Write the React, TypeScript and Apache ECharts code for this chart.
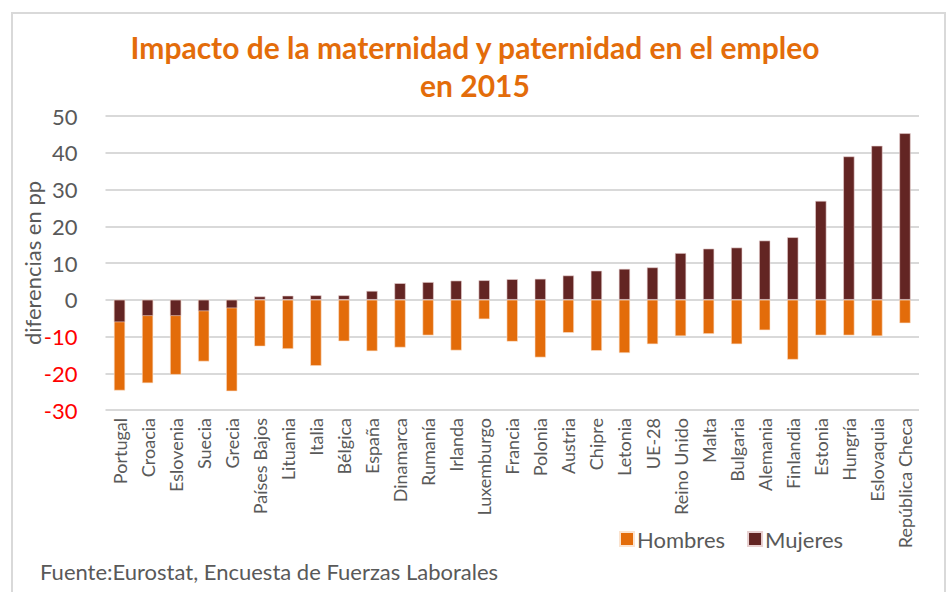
import React, { useEffect, useRef } from "react";
import * as echarts from "echarts";

const categories = [
  "Portugal", "Croacia", "Eslovenia", "Suecia", "Grecia", "Países Bajos", "Lituania", "Italia",
  "Bélgica", "España", "Dinamarca", "Rumanía", "Irlanda", "Luxemburgo", "Francia", "Polonia",
  "Austria", "Chipre", "Letonia", "UE-28", "Reino Unido", "Malta", "Bulgaria", "Alemania",
  "Finlandia", "Estonia", "Hungría", "Eslovaquia", "República Checa",
];
const hombres = [
  -24.7, -22.7, -20.4, -16.8, -24.9, -12.7, -13.4, -18.0,
  -11.3, -14.0, -13.0, -9.7, -13.8, -5.3, -11.4, -15.7,
  -9.0, -13.9, -14.5, -12.1, -9.9, -9.3, -12.1, -8.3,
  -16.3, -9.7, -9.7, -9.9, -6.4,
];
const mujeres = [
  -6.1, -4.4, -4.4, -3.1, -2.3, 0.9, 1.1, 1.2,
  1.2, 2.4, 4.5, 4.8, 5.2, 5.3, 5.6, 5.7,
  6.6, 7.9, 8.4, 8.8, 12.7, 13.9, 14.2, 16.1,
  17.0, 26.9, 39.0, 41.9, 45.3,
];
const yTicks = { min: -30, max: 50, interval: 10 };

const FONT = "Lato, 'Open Sans', sans-serif";
const GREY = "#595959";

export default function App() {
  const ref = useRef<HTMLDivElement>(null);
  useEffect(() => {
    if (!ref.current) return;
    const chart = echarts.init(ref.current, undefined, { renderer: "svg" });
    chart.setOption({
      animation: false,
      backgroundColor: "#ffffff",
      textStyle: { fontFamily: FONT },
      title: {
        text: "Impacto de la maternidad y paternidad en el empleo\nen 2015",
        left: "center",
        top: 23,
        textStyle: {
          color: "#E36C0A",
          fontFamily: FONT,
          fontWeight: "bold",
          fontSize: 30,
          lineHeight: 38,
        },
      },
      legend: {
        data: ["Hombres", "Mujeres"],
        left: 614,
        top: 523,
        itemWidth: 14,
        itemHeight: 14,
        itemGap: 22,
        icon: "rect",
        textStyle: { color: GREY, fontSize: 22, fontFamily: FONT, padding: [0, 0, 0, -2] },
      },
      graphic: [
        {
          type: "rect",
          shape: { x: 12, y: 13, width: 933, height: 640 },
          style: { fill: "none", stroke: "#D9D9D9", lineWidth: 2 },
          silent: true,
        },
        {
          type: "text",
          x: 32,
          y: 263,
          rotation: Math.PI / 2,
          style: {
            text: "diferencias en pp",
            fill: GREY,
            fontSize: 22,
            fontFamily: FONT,
            align: "center",
            verticalAlign: "middle",
          },
        },
        {
          type: "text",
          left: 40,
          top: 560,
          style: {
            text: "Fuente:Eurostat, Encuesta de Fuerzas Laborales",
            fill: GREY,
            fontSize: 22,
            fontFamily: FONT,
          },
        },
      ],
      grid: { left: 105.5, right: 31, top: 116, bottom: 182, containLabel: false },
      xAxis: {
        type: "category",
        data: categories,
        axisLine: { show: false },
        axisTick: { show: false },
        axisLabel: {
          rotate: 90,
          interval: 0,
          color: GREY,
          fontSize: 18,
          fontFamily: FONT,
          margin: 8,
        },
      },
      yAxis: {
        type: "value",
        min: yTicks.min,
        max: yTicks.max,
        interval: yTicks.interval,
        axisLine: { show: false },
        axisTick: { show: false },
        splitLine: { lineStyle: { color: "#D9D9D9", width: 2 } },
        axisLabel: {
          fontSize: 22,
          fontFamily: FONT,
          margin: 28,
          color: (v: any) => (Number(v) < 0 ? "#FF0000" : GREY),
        },
      },
      series: [
        {
          name: "Hombres",
          type: "bar",
          data: hombres,
          barWidth: "40%",
          barGap: "-100%",
          itemStyle: { color: "#E36C0A", borderColor: "#FBE3CF", borderWidth: 0.6 },
        },
        {
          name: "Mujeres",
          type: "bar",
          data: mujeres,
          barWidth: "40%",
          barGap: "-100%",
          itemStyle: { color: "#632523", borderColor: "#E8D0D0", borderWidth: 0.6 },
        },
      ],
    });
    return () => chart.dispose();
  }, []);
  return (
    <div
      ref={ref}
      style={{ position: "fixed", left: 0, top: 0, width: 950, height: 592 }}
    />
  );
}
